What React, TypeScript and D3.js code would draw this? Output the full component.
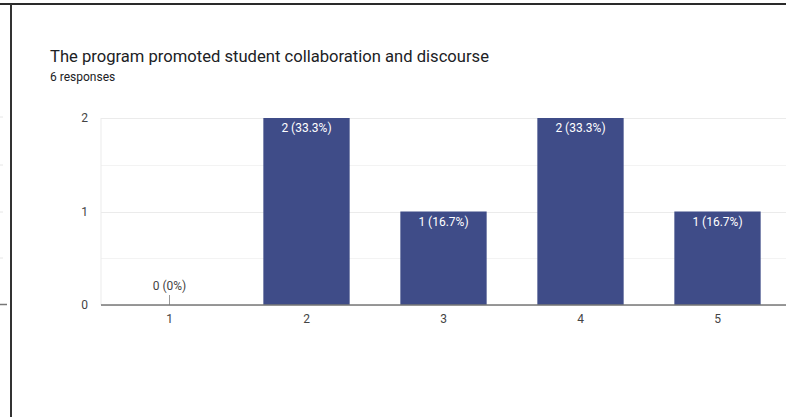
import React from "react";
import * as d3 from "d3";

const categories = ["1", "2", "3", "4", "5"];
const counts = [0, 2, 1, 2, 1];
const percentLabels = ["0%", "33.3%", "16.7%", "33.3%", "16.7%"];
const yTicks = [0, 1, 2];
const yMinorTicks = [0.5, 1.5];
const title = "The program promoted student collaboration and discourse";
const subtitle = "6 responses";

const W = 786;
const H = 417;

export default function App() {
  const x = d3
    .scaleBand<string>()
    .domain(categories)
    .range([101, 786])
    .paddingInner(0.37)
    .paddingOuter(0.185);
  const y = d3.scaleLinear().domain([0, 2]).range([305, 118]);
  const font = "Roboto, Arial, sans-serif";

  return (
    <svg
      width={W}
      height={H}
      style={{ position: "absolute", left: 0, top: 0, background: "#fff" }}
      fontFamily={font}
    >
      {/* frame artifacts */}
      <line x1={0} x2={W} y1={4} y2={4} stroke="#2a2a2a" strokeWidth={2} />
      <line x1={11} x2={11} y1={4} y2={H} stroke="#333" strokeWidth={2} />
      {[117, 165, 212, 258].map((v) => (
        <line key={v} x1={0} x2={3} y1={v} y2={v} stroke="#e6e6e6" strokeWidth={1} />
      ))}
      <line x1={0} x2={7} y1={304.5} y2={304.5} stroke="#777" strokeWidth={1.5} />

      <text x={50} y={62} fontSize={16.6} fill="#202124">
        {title}
      </text>
      <text x={50} y={81} fontSize={12} fill="#202124">
        {subtitle}
      </text>

      {/* gridlines */}
      {yMinorTicks.map((t) => (
        <line key={"m" + t} x1={101} x2={W} y1={Math.round(y(t)) + 0.5} y2={Math.round(y(t)) + 0.5} stroke="#f3f3f3" />
      ))}
      {yTicks.map((t) => (
        <line key={"g" + t} x1={101} x2={W} y1={Math.round(y(t)) + 0.5} y2={Math.round(y(t)) + 0.5} stroke="#ebebeb" />
      ))}
      <line x1={101} x2={101} y1={y(2)} y2={y(0)} stroke="#ebebeb" />
      {yTicks.map((t) => (
        <text key={"yl" + t} x={88} y={y(t) + 4} fontSize={12} fill="#444" textAnchor="end">
          {t}
        </text>
      ))}

      {/* bars */}
      {categories.map((c, i) => {
        const bx = x(c)!;
        const bw = x.bandwidth();
        const cx = bx + bw / 2;
        const top = y(counts[i]);
        const label = `${counts[i]} (${percentLabels[i]})`;
        if (counts[i] === 0) {
          return (
            <g key={c}>
              <line x1={cx} x2={cx} y1={y(0) - 10} y2={y(0)} stroke="#999" />
              <text x={cx} y={y(0) - 15} fontSize={12} fill="#444" textAnchor="middle">
                {label}
              </text>
            </g>
          );
        }
        return (
          <g key={c}>
            <rect x={bx} y={top} width={bw} height={y(0) - top} fill="#3f4c88" />
            <text x={cx} y={top + 14} fontSize={12} fill="#fff" textAnchor="middle">
              {label}
            </text>
          </g>
        );
      })}

      {/* baseline */}
      <line x1={101} x2={W} y1={305} y2={305} stroke="#777" strokeWidth={1.5} />
      {categories.map((c) => (
        <text key={"xl" + c} x={x(c)! + x.bandwidth() / 2} y={323} fontSize={12} fill="#444" textAnchor="middle">
          {c}
        </text>
      ))}
    </svg>
  );
}
